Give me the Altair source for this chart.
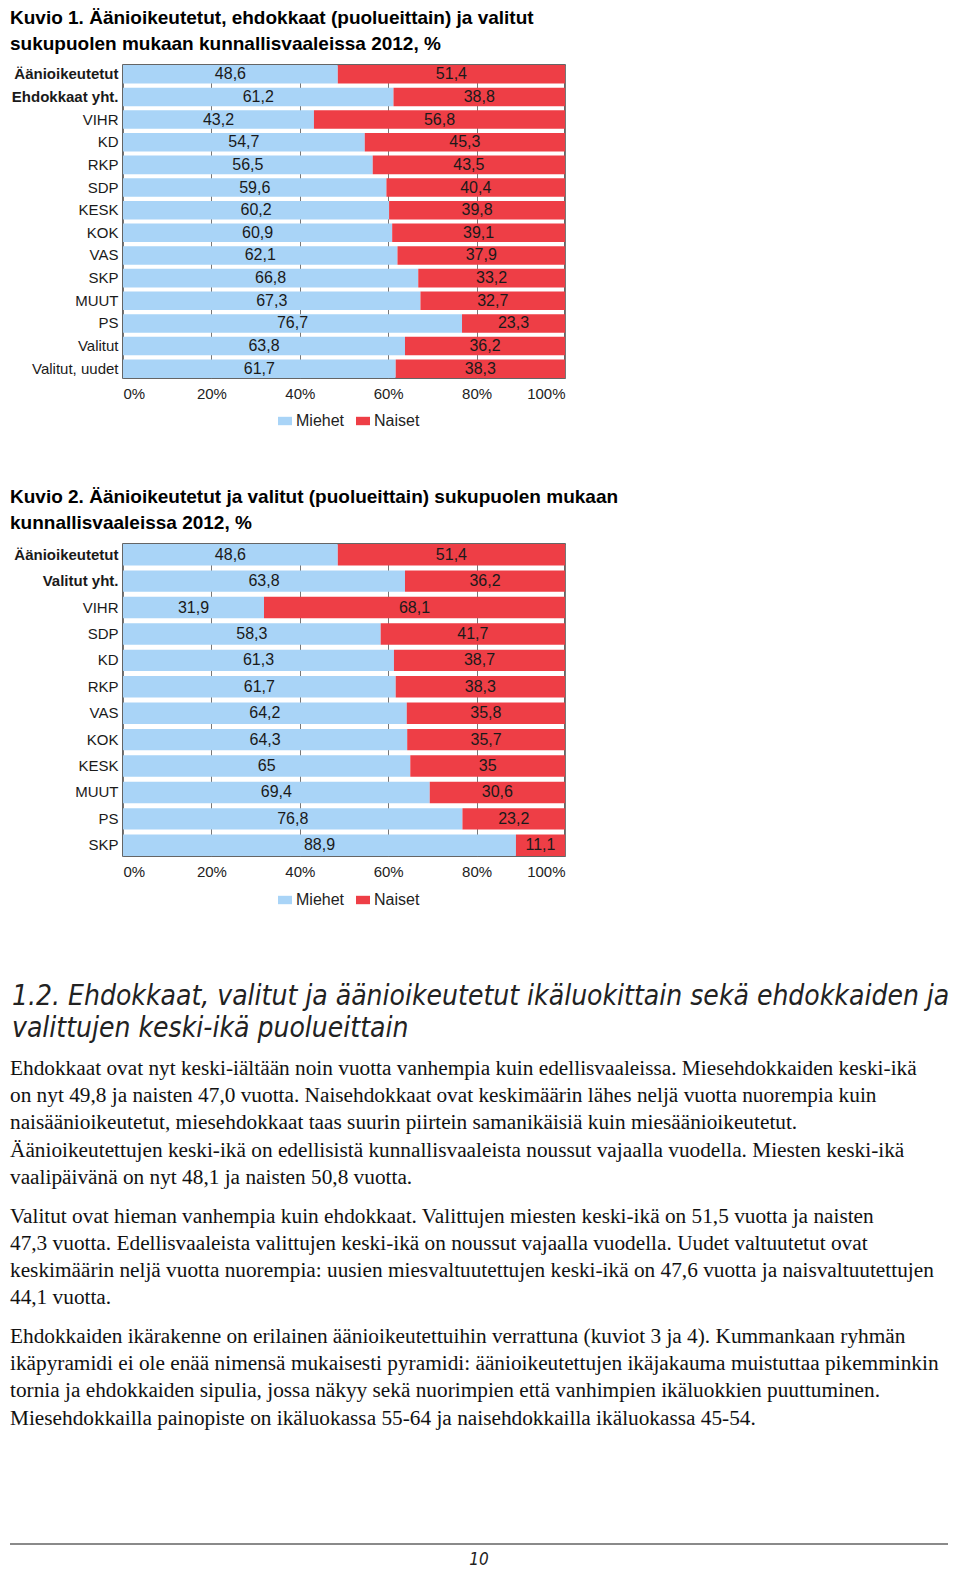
import json
import altair as alt
import pandas as pd

# ---------------- data ----------------
genders = ["Miehet", "Naiset"]

cats1 = ["Äänioikeutetut", "Ehdokkaat yht.", "VIHR", "KD", "RKP", "SDP", "KESK",
         "KOK", "VAS", "SKP", "MUUT", "PS", "Valitut", "Valitut, uudet"]
men1 = [48.6, 61.2, 43.2, 54.7, 56.5, 59.6, 60.2, 60.9, 62.1, 66.8, 67.3, 76.7, 63.8, 61.7]
women1 = [51.4, 38.8, 56.8, 45.3, 43.5, 40.4, 39.8, 39.1, 37.9, 33.2, 32.7, 23.3, 36.2, 38.3]

cats2 = ["Äänioikeutetut", "Valitut yht.", "VIHR", "SDP", "KD", "RKP", "VAS",
         "KOK", "KESK", "MUUT", "PS", "SKP"]
men2 = [48.6, 63.8, 31.9, 58.3, 61.3, 61.7, 64.2, 64.3, 65, 69.4, 76.8, 88.9]
women2 = [51.4, 36.2, 68.1, 41.7, 38.7, 38.3, 35.8, 35.7, 35, 30.6, 23.2, 11.1]

x_ticks = [0, 20, 40, 60, 80, 100]
bold_labels = ["Äänioikeutetut", "Ehdokkaat yht.", "Valitut yht."]

title1 = ["Kuvio 1. Äänioikeutetut, ehdokkaat (puolueittain) ja valitut",
          "sukupuolen mukaan kunnallisvaaleissa 2012, %"]
title2 = ["Kuvio 2. Äänioikeutetut ja valitut (puolueittain) sukupuolen mukaan",
          "kunnallisvaaleissa 2012, %"]

heading = ["1.2. Ehdokkaat, valitut ja äänioikeutetut ikäluokittain sekä ehdokkaiden ja",
           "valittujen keski-ikä puolueittain"]
para1 = ["Ehdokkaat ovat nyt keski-iältään noin vuotta vanhempia kuin edellisvaaleissa. Miesehdokkaiden keski-ikä",
         "on nyt 49,8 ja naisten 47,0 vuotta. Naisehdokkaat ovat keskimäärin lähes neljä vuotta nuorempia kuin",
         "naisäänioikeutetut, miesehdokkaat taas suurin piirtein samanikäisiä kuin miesäänioikeutetut.",
         "Äänioikeutettujen keski-ikä on edellisistä kunnallisvaaleista noussut vajaalla vuodella. Miesten keski-ikä",
         "vaalipäivänä on nyt 48,1 ja naisten 50,8 vuotta."]
para2 = ["Valitut ovat hieman vanhempia kuin ehdokkaat. Valittujen miesten keski-ikä on 51,5 vuotta ja naisten",
         "47,3 vuotta. Edellisvaaleista valittujen keski-ikä on noussut vajaalla vuodella. Uudet valtuutetut ovat",
         "keskimäärin neljä vuotta nuorempia: uusien miesvaltuutettujen keski-ikä on 47,6 vuotta ja naisvaltuutettujen",
         "44,1 vuotta."]
para3 = ["Ehdokkaiden ikärakenne on erilainen äänioikeutettuihin verrattuna (kuviot 3 ja 4). Kummankaan ryhmän",
         "ikäpyramidi ei ole enää nimensä mukaisesti pyramidi: äänioikeutettujen ikäjakauma muistuttaa pikemminkin",
         "tornia ja ehdokkaiden sipulia, jossa näkyy sekä nuorimpien että vanhimpien ikäluokkien puuttuminen.",
         "Miesehdokkailla painopiste on ikäluokassa 55-64 ja naisehdokkailla ikäluokassa 45-54."]
page_no = "10"

# ---------------- style ----------------
BLUE = "#A9D4F7"
RED = "#EE3E46"
SANS = "Liberation Sans"
NARROW = "DejaVu Sans Condensed, Liberation Sans"
SERIF = "Liberation Serif"
AXIS_EXT = 113


def fmt(v):
    return f"{v:g}".replace(".", ",")


bold_test = "indexof(" + json.dumps(bold_labels, ensure_ascii=False) + ", datum.value) >= 0"


def bar_chart(cats, men, women, title, h, pad_inner, legend_y):
    rows = []
    for c, m, w in zip(cats, men, women):
        rows.append(dict(cat=c, gender=genders[0], value=m, order=0, label=fmt(m)))
        rows.append(dict(cat=c, gender=genders[1], value=w, order=1, label=fmt(w)))
    df = pd.DataFrame(rows)

    base = alt.Chart(df).transform_stack(
        stack="value", groupby=["cat"], sort=[alt.SortField("order")], as_=["x0", "x1"]
    ).transform_calculate(mid="(datum.x0 + datum.x1) / 2")

    xscale = alt.Scale(domain=[0, 100], nice=False)
    xaxis = alt.Axis(values=x_ticks, labelExpr="datum.value + '%'", grid=True,
                     gridColor="#777777", gridWidth=1, ticks=False, domain=False,
                     labelFont=SANS, labelFontSize=15, labelColor="#222222",
                     labelPadding=8)
    yscale = alt.Scale(paddingInner=pad_inner, paddingOuter=0)
    yaxis = alt.Axis(labelFont=SANS, labelFontSize=15, labelColor="#1a1a1a",
                     labelPadding=5, ticks=False, domain=False,
                     minExtent=AXIS_EXT, maxExtent=AXIS_EXT,
                     labelFontWeight={"condition": {"test": bold_test, "value": "bold"},
                                      "value": "normal"})

    y = alt.Y("cat:N", sort=cats, title=None, scale=yscale, axis=yaxis)

    bars = base.mark_bar().encode(
        y=y,
        x=alt.X("x0:Q", scale=xscale, axis=xaxis, title=None),
        x2="x1:Q",
        color=alt.Color("gender:N", scale=alt.Scale(domain=genders, range=[BLUE, RED]),
                        legend=alt.Legend(orient="none", legendX=154, legendY=legend_y,
                                          direction="horizontal", title=None,
                                          symbolType="M-1,-0.6H1V0.6H-1Z", symbolSize=196,
                                          symbolStrokeWidth=0, labelFont=SANS,
                                          labelFontSize=16, labelColor="#222222",
                                          labelOffset=3, columnPadding=10)),
    )
    labels = base.mark_text(font=SANS, fontSize=16, color="#1a1a1a").encode(
        y=y,
        x=alt.X("mid:Q", scale=xscale, axis=xaxis, title=None),
        text="label:N",
    )
    return alt.layer(bars, labels).properties(
        width=442, height=h,
        title=alt.TitleParams(text=title, anchor="start", font=SANS, fontSize=19,
                              fontWeight="bold", lineHeight=26, offset=11, color="#000000"),
        view=alt.ViewBackground(stroke="#333333", strokeWidth=1.5),
    )


chart1 = bar_chart(cats1, men1, women1, title1, 313, 0.18, 348)
chart2 = bar_chart(cats2, men2, women2, title2, 312, 0.19, 348)

# ---------------- text block ----------------
TW, TH = 944 - AXIS_EXT - 6, 602
hdf = pd.DataFrame({"text": heading, "i": list(range(len(heading)))})
prow = []
k = 0
for p, para in enumerate([para1, para2, para3]):
    for line in para:
        prow.append(dict(text=line, k=k, p=p))
        k += 1
pdf = pd.DataFrame(prow)
ndf = pd.DataFrame({"text": [page_no]})

head_layer = alt.Chart(hdf).transform_calculate(ypos="30 + datum.i * 32").mark_text(
    font=NARROW, fontSize=28, fontStyle="italic", color="#222222", align="left",
    baseline="middle").encode(
    x=alt.value(-AXIS_EXT + 2), y=alt.Y("ypos:Q", scale=None, axis=None), text="text:N")

body_layer = alt.Chart(pdf).transform_calculate(ypos="102 + datum.k * 27.17 + datum.p * 11.8").mark_text(
    font=SERIF, fontSize=21.3, color="#111111", align="left", baseline="middle").encode(
    x=alt.value(-AXIS_EXT), y=alt.Y("ypos:Q", scale=None, axis=None), text="text:N")

rule_layer = alt.Chart(ndf).mark_rule(color="#8a8a8a", strokeWidth=2).encode(
    x=alt.value(-AXIS_EXT), x2=alt.value(TW), y=alt.value(577))

num_layer = alt.Chart(ndf).mark_text(font=NARROW, fontSize=17, fontStyle="italic",
                                     color="#222222", align="center", baseline="middle").encode(
    x=alt.value(356), y=alt.value(593), text="text:N")

text_chart = alt.layer(head_layer, body_layer, rule_layer, num_layer).properties(
    width=TW, height=TH, view=alt.ViewBackground(stroke="transparent"))

chart = alt.vconcat(chart1, chart2, text_chart, spacing=57).resolve_legend(
    color="independent").properties(padding=0).configure_view(stroke="transparent")

chart.save("out.html", embed_options={"renderer": "svg", "actions": False})
